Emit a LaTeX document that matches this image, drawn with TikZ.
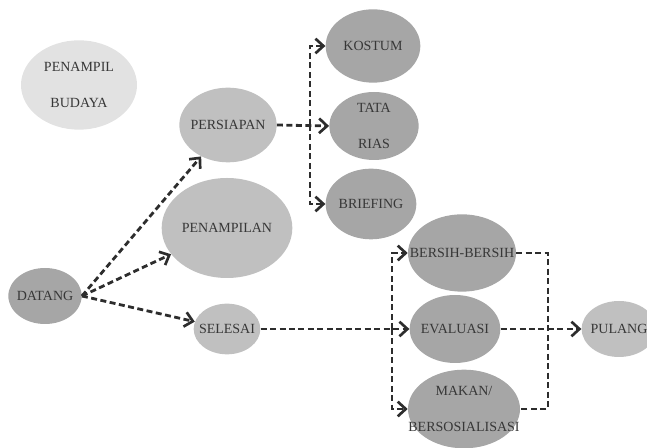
\documentclass[tikz,border=0pt]{standalone}
\usepackage{fontspec}
\setmainfont{Liberation Serif}
\usetikzlibrary{shapes.geometric,arrows.meta}
\definecolor{ink}{RGB}{55,55,55}
\definecolor{arrowink}{RGB}{45,45,45}
\definecolor{palegray}{RGB}{226,226,226}
\definecolor{softgray}{RGB}{192,192,192}
\definecolor{midgray}{RGB}{166,166,166}

\tikzset{
    bubble/.style={ellipse, inner xsep=-40pt, inner ysep=-20pt, text=ink,
        font=\fontsize{10.5}{27}\selectfont, align=center},
    link/.style={draw=arrowink, line width=2.1pt, dash pattern=on 4.5pt off 2.6pt},
    flow/.style={link, -{Straight Barb[length=6pt,width=11pt,line width=2pt]}}
}

\begin{document}
\begin{tikzpicture}[x=0.75pt, y=-0.75pt]
    \useasboundingbox (0,0) rectangle (647,448);

    % Legend
    \node[bubble, fill=palegray, minimum width=87pt, minimum height=67pt] (budaya) at (79,85) {PENAMPIL\\BUDAYA};

    % Main steps
    \node[bubble, fill=midgray, minimum width=55pt, minimum height=42pt] (datang) at (45,296) {DATANG};
    \node[bubble, fill=softgray, minimum width=73pt, minimum height=56pt] (persiapan) at (228,125) {PERSIAPAN};
    \node[bubble, fill=softgray, minimum width=98pt, minimum height=75pt] (penampilan) at (227,228) {PENAMPILAN};
    \node[bubble, fill=softgray, minimum width=50pt, minimum height=38pt] (selesai) at (227,329) {SELESAI};
    \node[bubble, fill=softgray, minimum width=56pt, minimum height=42pt] (pulang) at (619,329) {PULANG};

    % Preparation
    \node[bubble, fill=midgray, minimum width=71pt, minimum height=55pt] (kostum) at (373,46) {KOSTUM};
    \node[bubble, fill=midgray, minimum width=67pt, minimum height=51pt] (tatarias) at (374,126) {TATA\\RIAS};
    \node[bubble, fill=midgray, minimum width=68pt, minimum height=53pt] (briefing) at (371,204) {BRIEFING};

    % Closing
    \node[bubble, fill=midgray, minimum width=81pt, minimum height=58pt] (bersih) at (462,253) {BERSIH-BERSIH};
    \node[bubble, fill=midgray, minimum width=68pt, minimum height=51pt] (evaluasi) at (455,329) {EVALUASI};
    \node[bubble, fill=midgray, minimum width=84pt, minimum height=59pt] (makan) at (464,409) {MAKAN/\\BERSOSIALISASI};

    % Branch points
    \coordinate (split1) at (310,125);
    \coordinate (split2) at (392,329);
    \coordinate (merge) at (548,329);

    % From arrival
    \draw[flow] (datang.east) -- (persiapan);
    \draw[flow] (datang.east) -- (penampilan);
    \draw[flow] (datang.east) -- (selesai);

    % Preparation branches
    \draw[flow] (persiapan.east) -- (tatarias.west);
    \draw[flow] (split1) |- (kostum.west);
    \draw[flow] (split1) |- (briefing.west);

    % Closing branches
    \draw[flow] (selesai.east) -- (evaluasi.west);
    \draw[flow] (split2) |- (bersih.west);
    \draw[flow] (split2) |- (makan.west);
    \draw[link] (bersih.east) -| (merge) |- (makan.east);
    \draw[flow] (evaluasi.east) -- (pulang.west);
\end{tikzpicture}
\end{document}
